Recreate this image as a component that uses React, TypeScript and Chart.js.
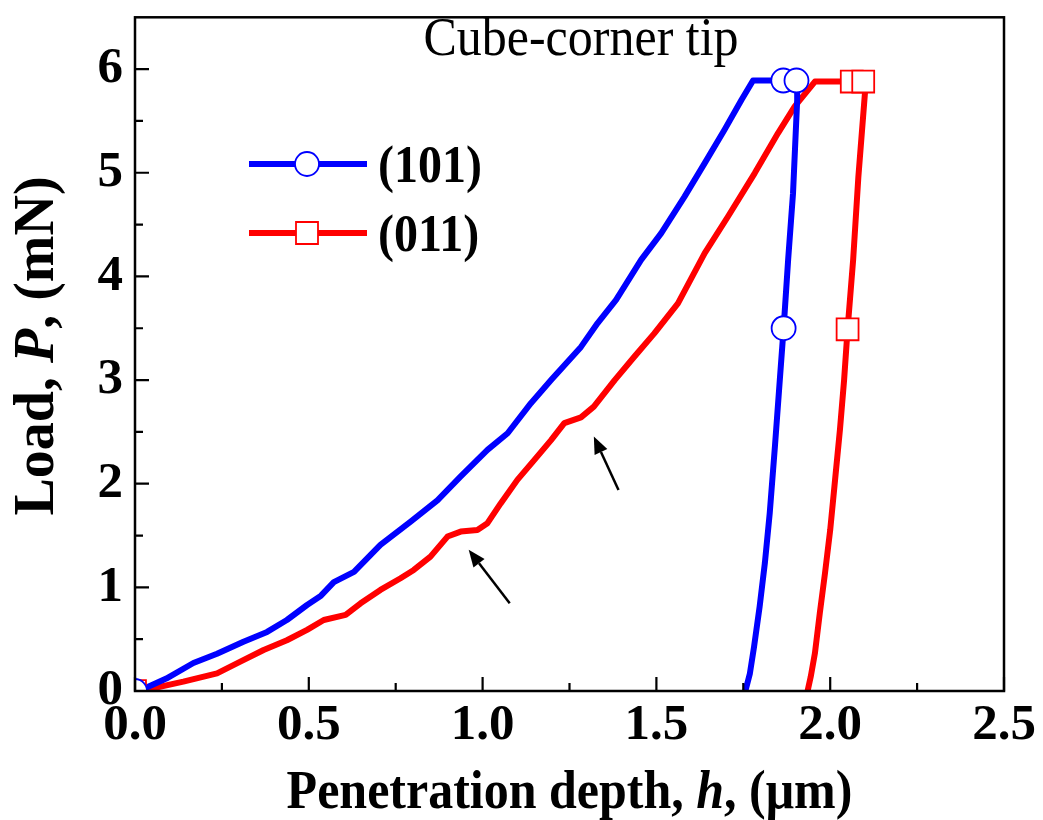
import React, { useEffect, useRef } from "react";
import { Chart, registerables } from "chart.js";

Chart.register(...registerables);

// ---------- data ----------
const xTickValues = [0, 0.5, 1.0, 1.5, 2.0, 2.5];
const xMinorValues = [0.25, 0.75, 1.25, 1.75, 2.25];
const yTickValues = [0, 1, 2, 3, 4, 5, 6];
const yMinorValues = [0.5, 1.5, 2.5, 3.5, 4.5, 5.5];

const seriesNames = ["(101)", "(011)"];

const depth101 = [0, 0.03, 0.09, 0.168, 0.236, 0.312, 0.38, 0.437, 0.495, 0.535, 0.572, 0.63, 0.706, 0.793, 0.87, 0.937, 1.014, 1.072, 1.139, 1.197, 1.283, 1.331, 1.384, 1.456, 1.514, 1.581, 1.639, 1.696, 1.745, 1.778, 1.84, 1.87, 1.905, 1.905, 1.893, 1.879, 1.866, 1.855, 1.841, 1.826, 1.812, 1.797, 1.781, 1.769, 1.756];
const load101 = [0, 0.03, 0.12, 0.27, 0.36, 0.476, 0.57, 0.685, 0.83, 0.92, 1.05, 1.15, 1.41, 1.634, 1.84, 2.07, 2.326, 2.487, 2.777, 3.0, 3.32, 3.55, 3.774, 4.16, 4.418, 4.77, 5.093, 5.415, 5.705, 5.89, 5.89, 5.89, 5.89, 5.7, 4.8, 4.16, 3.5, 3.0, 2.36, 1.715, 1.233, 0.814, 0.428, 0.17, 0];

const depth011 = [0, 0.03, 0.139, 0.236, 0.303, 0.37, 0.437, 0.495, 0.543, 0.606, 0.649, 0.706, 0.764, 0.802, 0.85, 0.899, 0.937, 0.985, 1.014, 1.052, 1.1, 1.149, 1.197, 1.235, 1.283, 1.32, 1.38, 1.437, 1.494, 1.562, 1.639, 1.706, 1.783, 1.85, 1.898, 1.956, 2.02, 2.062, 2.095, 2.1, 2.081, 2.066, 2.05, 2.04, 2.028, 2.014, 2.0, 1.985, 1.97, 1.956, 1.944, 1.935];
const load011 = [0, 0.01, 0.09, 0.17, 0.283, 0.396, 0.49, 0.59, 0.685, 0.734, 0.846, 0.975, 1.088, 1.168, 1.296, 1.49, 1.538, 1.554, 1.619, 1.81, 2.037, 2.23, 2.42, 2.584, 2.64, 2.744, 3.0, 3.227, 3.45, 3.74, 4.225, 4.578, 4.997, 5.383, 5.64, 5.88, 5.88, 5.88, 5.88, 5.77, 4.96, 4.16, 3.49, 3.0, 2.52, 2.037, 1.554, 1.136, 0.75, 0.364, 0.138, 0];

const markerDepth101 = [0, 1.865, 1.903, 1.866];
const markerLoad101 = [0, 5.89, 5.89, 3.5];
const markerDepth011 = [0, 2.062, 2.095, 2.05];
const markerLoad011 = [0, 5.88, 5.88, 3.49];

// arrows in data units
const arrowTail = [[1.078, 0.846], [1.391, 1.94]];
const arrowTip = [[0.96, 1.364], [1.32, 2.455]];

const BLUE = "#0000ff";
const RED = "#ff0000";
const SERIF = "'Liberation Serif', 'Times New Roman', serif";

const zip = (xs: number[], ys: number[]) => xs.map((x, i) => ({ x, y: ys[i] }));

function drawParts(
  ctx: CanvasRenderingContext2D,
  parts: { t: string; f: string }[],
  cx: number,
  y: number
) {
  let total = 0;
  const ws = parts.map((p) => {
    ctx.font = p.f;
    const w = ctx.measureText(p.t).width;
    total += w;
    return w;
  });
  let x = cx - total / 2;
  ctx.textAlign = "left";
  parts.forEach((p, i) => {
    ctx.font = p.f;
    ctx.fillText(p.t, x, y);
    x += ws[i];
  });
}

const decorPlugin = {
  id: "decor",
  afterDraw(chart: any) {
    const { ctx, chartArea: a, scales } = chart;
    const xs = scales.x;
    const ys = scales.y;
    ctx.save();

    // arrows
    ctx.strokeStyle = "#000";
    ctx.fillStyle = "#000";
    arrowTail.forEach((tail, i) => {
      const tx = xs.getPixelForValue(tail[0]);
      const ty = ys.getPixelForValue(tail[1]);
      const hx = xs.getPixelForValue(arrowTip[i][0]);
      const hy = ys.getPixelForValue(arrowTip[i][1]);
      const ang = Math.atan2(hy - ty, hx - tx);
      const hl = 17;
      const hw = 7;
      const bx = hx - hl * Math.cos(ang);
      const by = hy - hl * Math.sin(ang);
      ctx.lineWidth = 2.5;
      ctx.beginPath();
      ctx.moveTo(tx, ty);
      ctx.lineTo(bx, by);
      ctx.stroke();
      ctx.beginPath();
      ctx.moveTo(hx, hy);
      ctx.lineTo(bx + hw * Math.sin(ang), by - hw * Math.cos(ang));
      ctx.lineTo(bx - hw * Math.sin(ang), by + hw * Math.cos(ang));
      ctx.closePath();
      ctx.fill();
    });

    // frame
    ctx.lineWidth = 2.5;
    ctx.strokeStyle = "#000";
    ctx.strokeRect(a.left, a.top, a.right - a.left, a.bottom - a.top);

    // inward ticks
    ctx.lineWidth = 2.2;
    ctx.beginPath();
    xTickValues.forEach((v) => {
      const p = xs.getPixelForValue(v);
      ctx.moveTo(p, a.bottom);
      ctx.lineTo(p, a.bottom - 14);
    });
    xMinorValues.forEach((v) => {
      const p = xs.getPixelForValue(v);
      ctx.moveTo(p, a.bottom);
      ctx.lineTo(p, a.bottom - 8);
    });
    yTickValues.forEach((v) => {
      const p = ys.getPixelForValue(v);
      ctx.moveTo(a.left, p);
      ctx.lineTo(a.left + 14, p);
    });
    yMinorValues.forEach((v) => {
      const p = ys.getPixelForValue(v);
      ctx.moveTo(a.left, p);
      ctx.lineTo(a.left + 8, p);
    });
    ctx.stroke();

    ctx.fillStyle = "#000";
    ctx.textBaseline = "alphabetic";

    // title inside plot
    ctx.save();
    ctx.translate(581, 55);
    ctx.scale(1, 1.1);
    drawParts(ctx, [{ t: "Cube-corner tip", f: `normal 50px ${SERIF}` }], 0, 0);
    ctx.restore();

    // x axis title
    ctx.save();
    ctx.translate((a.left + a.right) / 2, 808);
    ctx.scale(1, 1.08);
    drawParts(
      ctx,
      [
        { t: "Penetration depth, ", f: `bold 50px ${SERIF}` },
        { t: "h", f: `italic bold 50px ${SERIF}` },
        { t: ", (\u03bcm)", f: `bold 50px ${SERIF}` },
      ],
      0,
      0
    );
    ctx.restore();

    // y axis title
    ctx.save();
    ctx.translate(53, 346);
    ctx.rotate(-Math.PI / 2);
    drawParts(
      ctx,
      [
        { t: "Load, ", f: `bold 56px ${SERIF}` },
        { t: "P", f: `italic bold 56px ${SERIF}` },
        { t: ", (mN)", f: `bold 56px ${SERIF}` },
      ],
      0,
      0
    );
    ctx.restore();

    // legend
    const legendRows = [
      { y: 164, color: BLUE, style: "circle", base: 182 },
      { y: 233, color: RED, style: "square", base: 251 },
    ];
    legendRows.forEach((row, i) => {
      ctx.strokeStyle = row.color;
      ctx.lineWidth = 6;
      ctx.beginPath();
      ctx.moveTo(249, row.y);
      ctx.lineTo(367, row.y);
      ctx.stroke();
      ctx.fillStyle = "#fff";
      ctx.lineWidth = 1.8;
      ctx.beginPath();
      if (row.style === "circle") {
        ctx.arc(307, row.y, 12, 0, Math.PI * 2);
      } else {
        ctx.rect(296, row.y - 11, 22, 22);
      }
      ctx.fill();
      ctx.stroke();
      ctx.fillStyle = "#000";
      ctx.save();
      ctx.translate(378, row.base);
      ctx.scale(1, 1.08);
      ctx.font = `bold 48px ${SERIF}`;
      ctx.textAlign = "left";
      ctx.fillText(seriesNames[i], 0, 0);
      ctx.restore();
    });

    ctx.restore();
  },
};

export default function App() {
  const ref = useRef<HTMLCanvasElement | null>(null);

  useEffect(() => {
    if (!ref.current) return;
    const tickFont = { family: SERIF, size: 51, weight: "bold" as const };
    const chart = new Chart(ref.current, {
      type: "line",
      data: {
        datasets: [
          {
            label: seriesNames[0] + " markers",
            data: zip(markerDepth101, markerLoad101),
            showLine: false,
            pointStyle: "circle",
            pointRadius: 12,
            pointBackgroundColor: "#fff",
            pointBorderColor: BLUE,
            pointBorderWidth: 1.8,
            borderColor: BLUE,
            clip: 0,
            order: 0,
          },
          {
            label: seriesNames[1] + " markers",
            data: zip(markerDepth011, markerLoad011),
            showLine: false,
            pointStyle: "rect",
            pointRadius: 15.5,
            pointBackgroundColor: "#fff",
            pointBorderColor: RED,
            pointBorderWidth: 1.8,
            borderColor: RED,
            clip: 0,
            order: 1,
          },
          {
            label: seriesNames[0],
            data: zip(depth101, load101),
            borderColor: BLUE,
            borderWidth: 6,
            pointRadius: 0,
            tension: 0,
            borderJoinStyle: "round",
            borderCapStyle: "round",
            order: 2,
          },
          {
            label: seriesNames[1],
            data: zip(depth011, load011),
            borderColor: RED,
            borderWidth: 6,
            pointRadius: 0,
            tension: 0,
            borderJoinStyle: "round",
            borderCapStyle: "round",
            order: 3,
          },
        ],
      },
      options: {
        responsive: false,
        animation: false,
        layout: { padding: { left: 0, right: 39, top: 17, bottom: 0 } },
        plugins: {
          legend: { display: false },
          tooltip: { enabled: false },
          title: { display: false },
        },
        scales: {
          x: {
            type: "linear",
            min: 0,
            max: 2.5,
            grid: { display: false, drawTicks: false },
            border: { display: false },
            afterFit: (s: any) => {
              s.height = 129;
              s.paddingLeft = 0;
              s.paddingRight = 0;
            },
            afterBuildTicks: (s: any) => {
              s.ticks = xTickValues.map((v) => ({ value: v }));
            },
            ticks: {
              autoSkip: false,
              maxRotation: 0,
              padding: 4,
              color: "#000",
              font: tickFont,
              callback: (v: any) => Number(v).toFixed(1),
            },
          },
          y: {
            type: "linear",
            min: 0,
            max: 6.5,
            grid: { display: false, drawTicks: false },
            border: { display: false },
            afterFit: (s: any) => {
              s.width = 135;
              s.paddingTop = 0;
              s.paddingBottom = 0;
            },
            afterBuildTicks: (s: any) => {
              s.ticks = yTickValues.map((v) => ({ value: v }));
            },
            ticks: {
              autoSkip: false,
              padding: 12,
              color: "#000",
              font: tickFont,
              callback: (v: any) => String(v),
            },
          },
        },
      },
      plugins: [decorPlugin],
    });
    return () => chart.destroy();
  }, []);

  return (
    <canvas
      ref={ref}
      width={1043}
      height={820}
      style={{ position: "absolute", left: 0, top: 0, display: "block" }}
    />
  );
}
